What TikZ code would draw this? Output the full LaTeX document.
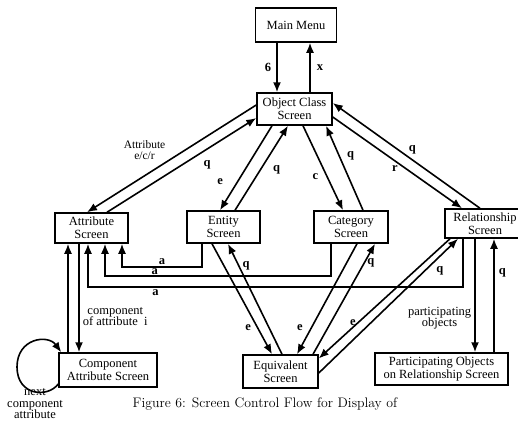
\documentclass[tikz,border=0pt]{standalone}
\usepackage{fontspec}
\usetikzlibrary{arrows.meta}
\newfontfamily\boxfont{Liberation Serif}
\tikzset{screen/.style={rectangle, draw, line width=1.5pt, align=center, inner sep=1pt,
    font=\boxfont\fontsize{12.5}{13}\selectfont},
  lab/.style={font=\boxfont\bfseries\fontsize{12.5}{12}\selectfont, inner sep=1pt},
  wlab/.style={font=\boxfont\fontsize{12.5}{11.5}\selectfont, align=center, inner sep=1pt}}

\begin{document}
\begin{tikzpicture}[x=1pt,y=-1pt,flow/.style={->,>={Latex[length=10pt,width=8pt]},line width=1.6pt}]
  \useasboundingbox (0,0) rectangle (518,428);
  \node[screen, minimum width=81pt, minimum height=34pt] (menu) at (296,25) {Main Menu};
  \node[screen, minimum width=75pt, minimum height=32pt] (objclass) at (294.5,109) {Object Class\\Screen};
  \node[screen, minimum width=73pt, minimum height=30pt] (attr) at (91.5,228) {Attribute\\Screen};
  \node[screen, minimum width=73pt, minimum height=32pt] (entity) at (223.5,227) {Entity\\Screen};
  \node[screen, minimum width=74pt, minimum height=32pt] (category) at (351,227) {Category\\Screen};
  \node[screen, minimum width=80pt, minimum height=29pt] (relation) at (485,223.5) {Relationship\\Screen};
  \node[screen, minimum width=98pt, minimum height=34pt] (component) at (108,370) {Component\\Attribute Screen};
  \node[screen, minimum width=75pt, minimum height=33pt] (equiv) at (280.5,371.5) {Equivalent\\Screen};
  \node[screen, minimum width=133pt, minimum height=32pt] (partobj) at (441.5,369) {Participating Objects\\on Relationship Screen};
  \node[font=\fontsize{13.8}{15}\selectfont] (caption) at (265,404) {Figure 6: Screen Control Flow for Display of};
  \node[wlab] (nextlab) at (35,404) {next\\component\\attribute};
  % main menu and object class
  \draw[flow] ([xshift=-19pt]menu.south) -- node[lab,left=4pt]{6} ([xshift=-19pt]menu.south |- objclass.north);
  \draw[flow] ([xshift=14pt]menu.south |- objclass.north) -- node[lab,right=5pt]{x} ([xshift=14pt]menu.south);
  % object class to the four screens
  \draw[flow] ([yshift=4pt]objclass.west) -- node[wlab,pos=0.66,above=14pt,font=\boxfont\fontsize{11.5}{11}\selectfont]{Attribute\\e/c/r} ([xshift=-4.5pt]attr.north);
  \draw[flow] ([xshift=15.5pt]attr.north) -- node[lab,pos=0.67,below=10pt]{q} ([yshift=-9pt]objclass.west);
  \draw[flow] ([xshift=-22.5pt]objclass.south) -- node[lab,pos=0.66,left=13pt]{e} ([xshift=-3.5pt]entity.north);
  \draw[flow] ([xshift=11.5pt]entity.north) -- node[lab,pos=0.48,right=11pt]{q} ([xshift=-6.5pt]objclass.south);
  \draw[flow] ([xshift=8.5pt]objclass.south) -- node[lab,pos=0.6,left=7pt]{c} ([xshift=-8pt]category.north);
  \draw[flow] ([xshift=12pt]category.north) -- node[lab,pos=0.64,right=6pt]{q} ([xshift=31.5pt]objclass.south);
  \draw[flow] ([yshift=-8pt]objclass.east) -- node[lab,pos=0.48,below=3pt]{r} ([xshift=-23pt]relation.north);
  \draw[flow] ([xshift=-5pt]relation.north) -- node[lab,pos=0.46,above=4pt]{q} ([yshift=6pt]objclass.east);
  % back to attribute screen
  \draw[flow] ([xshift=-21.5pt]entity.south) -- ++(0,23) -| node[lab,pos=0.25,above=0pt]{a} ([xshift=30.5pt]attr.south);
  \draw[flow] ([xshift=-20pt]category.south) -- ++(0,32) -| node[lab,pos=0.39,above=-1pt]{a} ([xshift=13.5pt]attr.south);
  \draw[flow] ([xshift=-22pt]relation.south) -- ++(0,48) -| node[lab,pos=0.41,below=1pt]{a} ([xshift=-3.5pt]attr.south);
  % component attribute
  \draw[flow] ([xshift=-12.5pt]attr.south) -- node[wlab,pos=0.67,right=2pt]{component\\of attribute\ \ i} ([xshift=-12.5pt]attr.south |- component.north);
  \draw[flow] ([xshift=-23.5pt]attr.south |- component.north) -- ([xshift=-23.5pt]attr.south);
  \draw[flow] ([yshift=-14pt]component.west) .. controls (48,398) and (17,396) .. (17,367)
    .. controls (17,338) and (48,334) .. ([xshift=3pt]component.north west);
  % equivalent screen
  \draw[flow] ([xshift=-11.5pt]entity.south) -- node[lab,pos=0.76,left=5pt]{e} ([xshift=-8.5pt]equiv.north);
  \draw[flow] ([xshift=1.5pt]equiv.north) -- node[lab,pos=0.8,right=2pt]{q} ([xshift=4.5pt]entity.south);
  \draw[flow] ([xshift=6pt]category.south) -- node[lab,pos=0.76,left=7pt]{e} ([xshift=16.5pt]equiv.north);
  \draw[flow] ([xshift=32.5pt]equiv.north) -- node[lab,pos=0.83,right=1pt]{q} ([xshift=24pt]category.south);
  \draw[flow] ([xshift=-35pt]relation.south) -- node[lab,pos=0.74,above=0pt]{e} ([yshift=13pt]equiv.east);
  \draw[flow] ([yshift=-1.5pt]equiv.east) -- node[lab,pos=0.87,below=8pt]{q} ([xshift=-27pt]relation.south);
  % participating objects
  \draw[flow] ([xshift=-10pt]relation.south) -- node[wlab,pos=0.7,left=2pt]{participating\\objects} ([xshift=-10pt]relation.south |- partobj.north);
  \draw[flow] ([xshift=9pt]relation.south |- partobj.north) -- node[lab,pos=0.7,right=3pt]{q} ([xshift=9pt]relation.south);
\end{tikzpicture}
\end{document}
